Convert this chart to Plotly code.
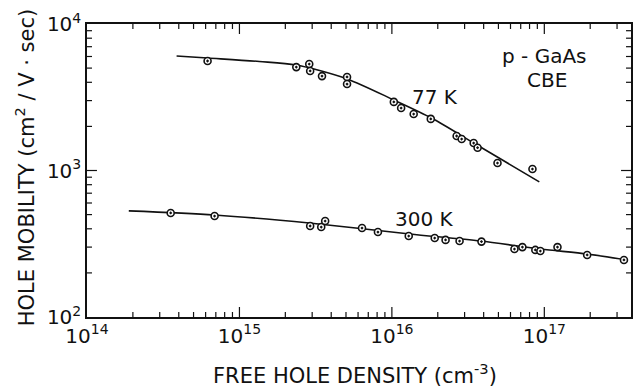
import plotly.graph_objects as go

# ---- data ----
# 77 K measured points
x77 = [6.18e14, 2.36e15, 2.87e15, 2.91e15, 3.48e15, 5.08e15, 5.08e15, 1.03e16, 1.15e16,
       1.39e16, 1.80e16, 2.66e16, 2.87e16, 3.44e16, 3.65e16, 4.93e16, 8.36e16]
y77 = [5590, 5080, 5330, 4780, 4410, 4350, 3890, 2940, 2670,
       2430, 2250, 1720, 1640, 1540, 1430, 1125, 1023]
# 77 K fitted curve
x77_fit = [3.87e14, 6.18e14, 1.35e15, 2.36e15, 5.08e15, 1.03e16, 1.82e16, 3.44e16, 9.27e16]
y77_fit = [6050, 5860, 5550, 5250, 4220, 3030, 2280, 1540, 836]

# 300 K measured points
x300 = [3.54e14, 6.87e14, 2.91e15, 3.44e15, 3.65e15, 6.37e15, 8.1e15, 1.29e16, 1.91e16,
        2.25e16, 2.78e16, 3.87e16, 6.37e16, 7.18e16, 8.73e16, 9.42e16, 1.22e17, 1.91e17, 3.33e17]
y300 = [513, 489, 418, 411, 452, 405, 380, 357, 346,
        336, 330, 327, 291, 300, 287, 282, 300, 265, 245]
# 300 K fitted curve
x300_fit = [1.88e14, 6.87e14, 2.87e15, 1.31e16, 3.82e16, 9.5e16, 1.91e17, 3.45e17]
y300_fit = [530, 497, 438, 369, 330, 291, 269, 245]

x_major = [1e14, 1e15, 1e16, 1e17]
x_major_text = ["10<sup>14</sup>", "10<sup>15</sup>", "10<sup>16</sup>", "10<sup>17</sup>"]
y_major = [1e2, 1e3, 1e4]
y_major_text = ["10<sup>2</sup>", "10<sup>3</sup>", "10<sup>4</sup>"]

x_minor = [m * 10 ** e for e in range(14, 18) for m in range(2, 10) if m * 10 ** e < 3.7e17]
y_minor = [m * 10 ** e for e in range(2, 4) for m in range(2, 10)]

INK = "#111111"
FONT = "DejaVu Sans"
XR = [14, 14 + 546 / 153]
YR = [2, 4]
X_PX_PER_DEC = 153.0
Y_PX_PER_DEC = 146.5
MAJOR_LEN = 10
MINOR_LEN = 5

# tick segments (inside ticks on all four sides), built from the tick value lists
tx, ty = [], []
def add_x_ticks(vals, length):
    d = length / Y_PX_PER_DEC
    for v in vals:
        tx.extend([v, v, None]); ty.extend([10 ** YR[0], 10 ** (YR[0] + d), None])
        tx.extend([v, v, None]); ty.extend([10 ** YR[1], 10 ** (YR[1] - d), None])
def add_y_ticks(vals, length):
    d = length / X_PX_PER_DEC
    for v in vals:
        tx.extend([10 ** XR[0], 10 ** (XR[0] + d), None]); ty.extend([v, v, None])
        tx.extend([10 ** XR[1], 10 ** (XR[1] - d), None]); ty.extend([v, v, None])
add_x_ticks(x_major[1:], MAJOR_LEN)
add_x_ticks(x_minor, MINOR_LEN)
add_y_ticks(y_major[1:-1], MAJOR_LEN)
add_y_ticks(y_minor, MINOR_LEN)

fig = go.Figure()
fig.add_trace(go.Scatter(x=tx, y=ty, mode="lines", line=dict(color=INK, width=1.2),
                         hoverinfo="skip", showlegend=False, connectgaps=False))
fig.add_trace(go.Scatter(x=x77_fit, y=y77_fit, mode="lines",
                         line=dict(color=INK, width=1.6, shape="spline", smoothing=0.8),
                         hoverinfo="skip", showlegend=False))
fig.add_trace(go.Scatter(x=x300_fit, y=y300_fit, mode="lines",
                         line=dict(color=INK, width=1.6, shape="spline", smoothing=0.8),
                         hoverinfo="skip", showlegend=False))
fig.add_trace(go.Scatter(x=x77, y=y77, mode="markers",
                         marker=dict(symbol="circle-dot", size=7, color="white",
                                     line=dict(color=INK, width=1.6)),
                         showlegend=False))
fig.add_trace(go.Scatter(x=x300, y=y300, mode="markers",
                         marker=dict(symbol="circle-dot", size=7, color="white",
                                     line=dict(color=INK, width=1.6)),
                         showlegend=False))

tickfont = dict(family=FONT, size=20, color=INK)

fig.update_layout(
    xaxis=dict(type="log", range=XR, tickvals=x_major, ticktext=x_major_text,
               showline=True, linecolor=INK, linewidth=1.5, mirror=True, ticks="",
               showgrid=False, zeroline=False, tickfont=tickfont),
    yaxis=dict(type="log", range=YR, tickvals=y_major, ticktext=y_major_text,
               showline=True, linecolor=INK, linewidth=1.5, mirror=True, ticks="",
               showgrid=False, zeroline=False, tickfont=tickfont),
)

ann_font = dict(family=FONT, size=20, color=INK)
fig.add_annotation(x=15 + (436 - 240) / 153, y=4 - (97 - 24) / 146.5, xref="x", yref="y",
                   text="77 K", showarrow=False, font=ann_font)
fig.add_annotation(x=15 + (426 - 240) / 153, y=4 - (219 - 24) / 146.5, xref="x", yref="y",
                   text="300 K", showarrow=False, font=ann_font)
fig.add_annotation(x=15 + (546 - 240) / 153, y=4 - (56 - 24) / 146.5, xref="x", yref="y",
                   text="p - GaAs", showarrow=False, font=ann_font)
fig.add_annotation(x=15 + (549 - 240) / 153, y=4 - (80 - 24) / 146.5, xref="x", yref="y",
                   text="CBE", showarrow=False, font=ann_font)

# axis titles
fig.add_annotation(x=(356 - 87) / 546, y=(317 - 374) / 293, xref="paper", yref="paper",
                   text="FREE HOLE DENSITY (cm<sup>-3</sup>)", showarrow=False,
                   font=dict(family=FONT, size=21, color=INK), yanchor="middle")
fig.add_annotation(x=(25 - 87) / 546, y=(317 - 168) / 293, xref="paper", yref="paper",
                   text="HOLE MOBILITY (cm<sup>2</sup> / V · sec)", showarrow=False,
                   textangle=-90, font=dict(family=FONT, size=21, color=INK),
                   xanchor="center", yanchor="middle")

fig.update_layout(width=634, height=388,
                  margin=dict(l=87, r=1, t=24, b=71),
                  paper_bgcolor="white", plot_bgcolor="white")

fig.write_html("out.html")
